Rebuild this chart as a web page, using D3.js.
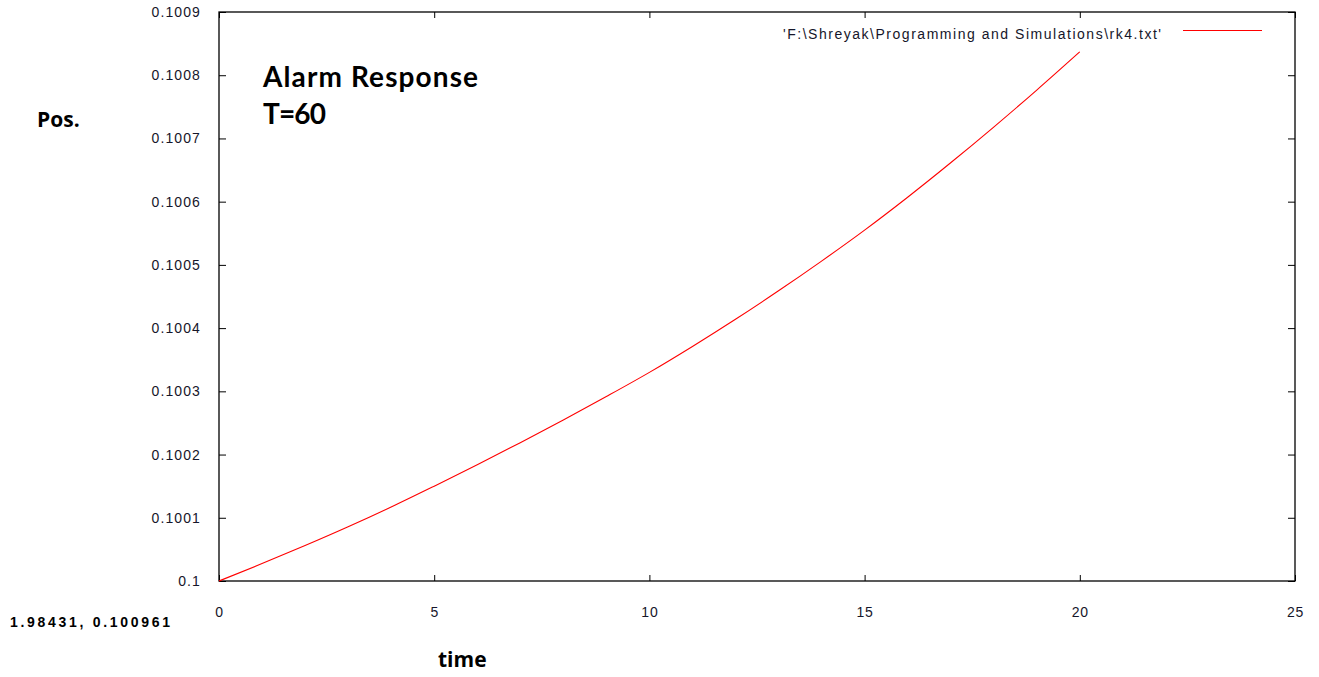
<!DOCTYPE html>
<html>
<head>
<meta charset="utf-8">
<script src="https://cdn.jsdelivr.net/npm/d3@7"></script>
<style>
  html, body { margin: 0; padding: 0; background: #fff; }
  svg { display: block; }
  .tick-label { font-family: "Liberation Sans", Arial, sans-serif; font-size: 14px; fill: #16162a; }
</style>
</head>
<body>
<svg id="chart" width="1319" height="677"></svg>
<script>
// RK4 output: time vs position
const times = [0, 1, 2, 3, 4, 5, 6, 7, 8, 9, 10, 11, 12, 13, 14, 15, 16, 17, 18, 19, 20];
const positions = [0.1000000, 0.1000275, 0.1000560, 0.1000857, 0.1001170, 0.1001500,
  0.1001838, 0.1002188, 0.1002548, 0.1002918, 0.1003300, 0.1003710, 0.1004140,
  0.1004590, 0.1005060, 0.1005550, 0.1006070, 0.1006615, 0.1007180, 0.1007765, 0.1008370];

const xTicks = [0, 5, 10, 15, 20, 25];
const yTicks = [0.1, 0.1001, 0.1002, 0.1003, 0.1004, 0.1005, 0.1006, 0.1007, 0.1008, 0.1009];
const yTickLabels = ["0.1", "0.1001", "0.1002", "0.1003", "0.1004", "0.1005", "0.1006", "0.1007", "0.1008", "0.1009"];
const legendLabel = "'F:\\Shreyak\\Programming and Simulations\\rk4.txt'";
const mouseReadout = "1.98431,  0.100961";

const svg = d3.select("#chart");
const plot = { left: 219, right: 1295, top: 12, bottom: 581 };

const x = d3.scaleLinear().domain([0, 25]).range([plot.left, plot.right]);
const y = d3.scaleLinear().domain([0.1, 0.1009]).range([plot.bottom, plot.top]);

// Axes: ticks drawn inward, mirrored on the opposite borders
const g = svg.append("g");

g.append("g").attr("transform", `translate(0,${plot.bottom})`)
  .call(d3.axisBottom(x).tickValues(xTicks).tickSize(-6).tickPadding(26).tickFormat(d3.format("d")))
  .call(a => a.select(".domain").remove())
  .call(a => a.selectAll("text").attr("class", "tick-label").attr("fill", null).style("letter-spacing", "0.8px"));

g.append("g").attr("transform", `translate(0,${plot.top})`)
  .call(d3.axisTop(x).tickValues(xTicks).tickSize(-6).tickFormat(""))
  .call(a => a.select(".domain").remove());

g.append("g").attr("transform", `translate(${plot.left},0)`)
  .call(d3.axisLeft(y).tickValues(yTicks).tickSize(-7).tickPadding(18).tickFormat((d, i) => yTickLabels[i]))
  .call(a => a.select(".domain").remove())
  .call(a => a.selectAll("text").attr("class", "tick-label").attr("fill", null).style("letter-spacing", "1.1px"));

g.append("g").attr("transform", `translate(${plot.right},0)`)
  .call(d3.axisRight(y).tickValues(yTicks).tickSize(-7).tickFormat(""))
  .call(a => a.select(".domain").remove());

g.selectAll(".tick line").attr("stroke", "#000").attr("stroke-width", 1);

// Plot border
svg.append("rect")
  .attr("x", plot.left).attr("y", plot.top)
  .attr("width", plot.right - plot.left).attr("height", plot.bottom - plot.top)
  .attr("fill", "none").attr("stroke", "#000").attr("stroke-width", 1.3);

// Data curve
const line = d3.line().x((d, i) => x(times[i])).y(d => y(d)).curve(d3.curveMonotoneX);
svg.append("path")
  .datum(positions)
  .attr("d", line)
  .attr("fill", "none")
  .attr("stroke", "#ff0000")
  .attr("stroke-width", 1.1);

// Legend
svg.append("text")
  .attr("x", 783).attr("y", 39)
  .attr("textLength", 378).attr("lengthAdjust", "spacing")
  .attr("class", "tick-label")
  .text(legendLabel);
svg.append("line")
  .attr("x1", 1183).attr("x2", 1262).attr("y1", 30.5).attr("y2", 30.5)
  .attr("stroke", "#ff0000").attr("stroke-width", 1.2);

// Annotation labels
const bold = "Lato, 'Open Sans', sans-serif";
function boldLabel(tx, ty, size, width, str) {
  svg.append("text").attr("x", tx).attr("y", ty)
    .attr("textLength", width).attr("lengthAdjust", "spacing")
    .style("font-family", bold).style("font-weight", 700).style("font-size", size + "px").attr("fill", "#000")
    .text(str);
}
boldLabel(263, 87, 28, 215, "Alarm Response");
boldLabel(263, 124, 28, 63, "T=60");

// Axis titles
function axisTitle(tx, ty, str) {
  svg.append("text").attr("x", tx).attr("y", ty)
    .style("font-family", "'Open Sans', sans-serif").style("font-weight", 700).style("font-size", "21px").attr("fill", "#000")
    .text(str);
}
axisTitle(37, 127, "Pos.");
axisTitle(438, 667, "time");

// Cursor readout
svg.append("text").attr("x", 10).attr("y", 627)
  .attr("textLength", 160).attr("lengthAdjust", "spacing")
  .style("font-family", "'Liberation Sans', Arial, sans-serif").style("font-weight", 700).style("font-size", "14px").attr("fill", "#000")
  .text(mouseReadout);
</script>
</body>
</html>
